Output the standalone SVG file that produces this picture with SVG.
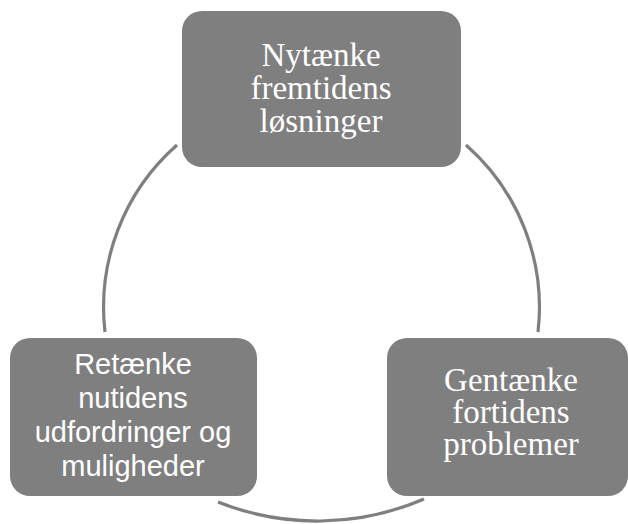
<svg xmlns="http://www.w3.org/2000/svg" width="628" height="524" viewBox="0 0 628 524">
  <style>
    .box { fill: #7f7f7f; }
    .arc { fill: none; stroke: #7f7f7f; stroke-width: 3.2; }
    .serif { font-family: "Liberation Serif", "Times New Roman", serif; font-size: 33px; fill: #ffffff; text-anchor: middle; }
    .sans { font-family: "Liberation Sans", Arial, sans-serif; font-size: 29px; fill: #ffffff; text-anchor: middle; }
  </style>
  <rect width="628" height="524" fill="#ffffff"/>
  <g id="connectors">
    <path class="arc" d="M177,145 A216,216 0 0 0 105,332"/>
    <path class="arc" d="M466,145 A216,216 0 0 1 538,332"/>
    <path class="arc" d="M218,502 A269,269 0 0 0 424,499"/>
  </g>
  <g id="node-nytaenke">
    <rect class="box" x="182" y="11" width="279" height="156" rx="20" ry="20"/>
    <text class="serif" x="321" y="66">Nytænke</text>
    <text class="serif" x="321" y="99">fremtidens</text>
    <text class="serif" x="321" y="132">løsninger</text>
  </g>
  <g id="node-retaenke">
    <rect class="box" x="10" y="338" width="247" height="158" rx="20" ry="20"/>
    <text class="sans" x="133" y="374">Retænke</text>
    <text class="sans" x="133" y="408">nutidens</text>
    <text class="sans" x="133" y="442">udfordringer og</text>
    <text class="sans" x="133" y="476">muligheder</text>
  </g>
  <g id="node-gentaenke">
    <rect class="box" x="387" y="338" width="241" height="158" rx="20" ry="20"/>
    <text class="serif" x="511" y="391">Gentænke</text>
    <text class="serif" x="511" y="423">fortidens</text>
    <text class="serif" x="511" y="455">problemer</text>
  </g>
</svg>
